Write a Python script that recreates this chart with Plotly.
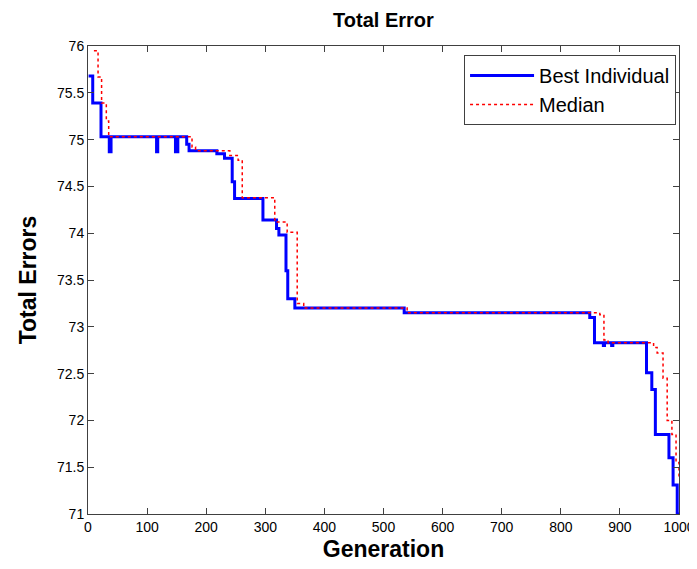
import plotly.graph_objects as go

# best individual per generation (step changes)
best_gen = [1, 8, 22, 36, 39, 116, 118, 148, 152, 167, 171, 218, 231, 244, 248,
            296, 319, 323, 335, 338, 350, 535, 849, 857, 872, 874, 886, 888,
            945, 954, 960, 983, 990, 997, 1000]
best_val = [75.68, 75.39, 75.03, 74.87, 75.03, 74.87, 75.03, 74.87, 75.03, 74.95, 74.88,
            74.85, 74.80, 74.55, 74.37, 74.14, 74.05, 73.98, 73.60, 73.30, 73.20,
            73.15, 73.10, 72.83, 72.80, 72.83, 72.80, 72.83,
            72.51, 72.33, 71.85, 71.60, 71.31, 71.00, 71.00]

# population median per generation
med_gen = [10, 17, 23, 31, 35, 176, 182, 240, 254, 261, 316, 337, 354, 365,
           540, 859, 866, 873, 880, 957, 963, 973, 980, 988, 995, 1000]
med_val = [75.95, 75.67, 75.39, 75.20, 75.03, 74.92, 74.88, 74.83, 74.78, 74.38,
           74.12, 74.01, 73.25, 73.20, 73.15, 73.15, 73.13, 72.86, 72.83, 72.78,
           72.72, 72.45, 72.00, 71.85, 71.55, 71.40]

x_ticks = list(range(0, 1001, 100))
y_ticks = [71, 71.5, 72, 72.5, 73, 73.5, 74, 74.5, 75, 75.5, 76]

fig = go.Figure()
fig.add_trace(go.Scatter(
    x=best_gen, y=best_val, mode="lines", name="Best Individual",
    line=dict(color="#0000ff", width=3, shape="hv"),
))
fig.add_trace(go.Scatter(
    x=med_gen, y=med_val, mode="lines", name="Median",
    line=dict(color="#ff0000", width=1.5, dash="dot", shape="hv"),
))

axis_style = dict(
    showline=True, linecolor="#404040", linewidth=1, mirror="ticks",
    ticks="inside", ticklen=6, tickcolor="#404040", showgrid=False,
    zeroline=False, tickfont=dict(size=14, color="#000000"),
    ticklabeloverflow="allow", automargin=False,
)

# page body has an 8px margin, so the figure is a bit smaller than the window
W, H = 689, 561
fig.update_layout(
    width=W, height=H,
    margin=dict(l=80, r=18, t=38, b=55),
    paper_bgcolor="white", plot_bgcolor="white",
    font=dict(family="Liberation Sans, Arial, sans-serif", color="#000000"),
    title=dict(text="<b>Total Error</b>", x=(80 + 671) / 2 / W, xanchor="center",
               y=1 - 12 / H, yanchor="middle", font=dict(size=20)),
    xaxis=dict(range=[0, 1000], tickvals=x_ticks,
               title=dict(text="<b>Generation</b>", font=dict(size=23), standoff=7),
               **axis_style),
    yaxis=dict(range=[71, 76], tickvals=y_ticks,
               ticktext=[f"{v:g}" for v in y_ticks],
               title=dict(text="<b>Total Errors</b>", font=dict(size=23), standoff=13),
               **axis_style),
    legend=dict(x=0.995, y=0.981, xanchor="right", yanchor="top",
                bordercolor="#404040", borderwidth=1, bgcolor="white",
                font=dict(size=20), tracegroupgap=0, itemwidth=64),
    showlegend=True,
)

fig.write_html("out.html")
